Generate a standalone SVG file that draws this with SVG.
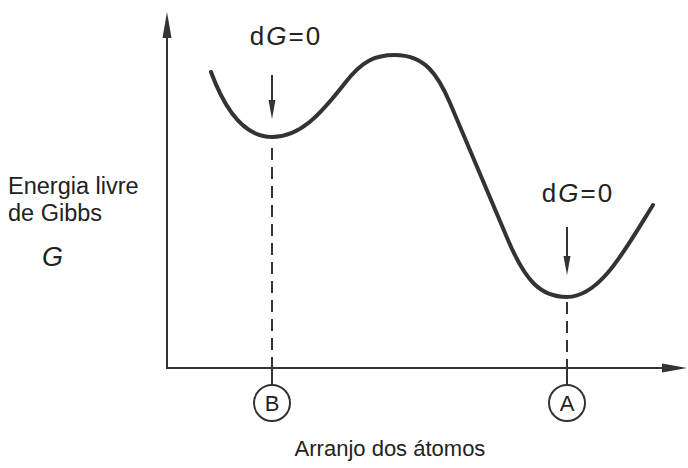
<svg xmlns="http://www.w3.org/2000/svg" width="688" height="468" viewBox="0 0 688 468">
<style>
.lbl{font-family:"Liberation Sans",Arial,sans-serif;fill:#222}
.axis{stroke:#333;stroke-width:2;fill:none}
.dash{stroke:#333;stroke-width:2;fill:none;stroke-dasharray:12 7}
.curve{stroke:#333;stroke-width:4;fill:none;stroke-linecap:round}
.circ{stroke:#333;stroke-width:2;fill:#fff}
</style>
<rect width="688" height="468" fill="#fff"/>
<g id="connectors">
  <line class="axis" x1="167" y1="30" x2="167" y2="368"/>
  <polygon points="167,12 162.5,38 171.5,38" fill="#333"/>
  <line class="axis" x1="166" y1="368" x2="668" y2="368"/>
  <polygon points="687,368 662,363.5 662,372.5" fill="#333"/>
  <path class="curve" d="M211,72 C225,110 245,137 272,137 C300,137 320,115 345,83 C362,61 375,55 395,55 C425,55 438,75 450,103 L508,240 C525,280 540,297 567,297 C600,297 625,250 653,205"/>
  <line class="dash" x1="272" y1="148" x2="272" y2="368"/>
  <line class="dash" x1="567" y1="302" x2="567" y2="368"/>
  <line class="axis" x1="272" y1="368" x2="272" y2="386"/>
  <line class="axis" x1="567" y1="368" x2="567" y2="386"/>
  <line class="axis" x1="272" y1="75" x2="272" y2="105"/>
  <polygon points="272,119 268.5,100 275.5,100" fill="#333"/>
  <line class="axis" x1="567" y1="227" x2="567" y2="260"/>
  <polygon points="567,275 563.5,256 570.5,256" fill="#333"/>
</g>
<g id="label-dg-b"><text class="lbl" x="286" y="45" font-size="26" text-anchor="middle" letter-spacing="2">d<tspan font-style="italic">G</tspan>=0</text></g>
<g id="label-dg-a"><text class="lbl" x="578" y="202" font-size="26" text-anchor="middle" letter-spacing="2">d<tspan font-style="italic">G</tspan>=0</text></g>
<g id="node-b"><circle class="circ" cx="272" cy="403" r="18"/><text class="lbl" x="272" y="411" font-size="22" text-anchor="middle">B</text></g>
<g id="node-a"><circle class="circ" cx="567" cy="403" r="18"/><text class="lbl" x="567" y="411" font-size="22" text-anchor="middle">A</text></g>
<g id="y-label">
  <text class="lbl" x="8" y="194" font-size="23.5">Energia livre</text>
  <text class="lbl" x="8" y="221" font-size="23.5">de Gibbs</text>
  <text class="lbl" x="42" y="266" font-size="27" font-style="italic">G</text>
</g>
<g id="x-label"><text class="lbl" x="390" y="456" font-size="22" text-anchor="middle">Arranjo dos átomos</text></g>
</svg>
